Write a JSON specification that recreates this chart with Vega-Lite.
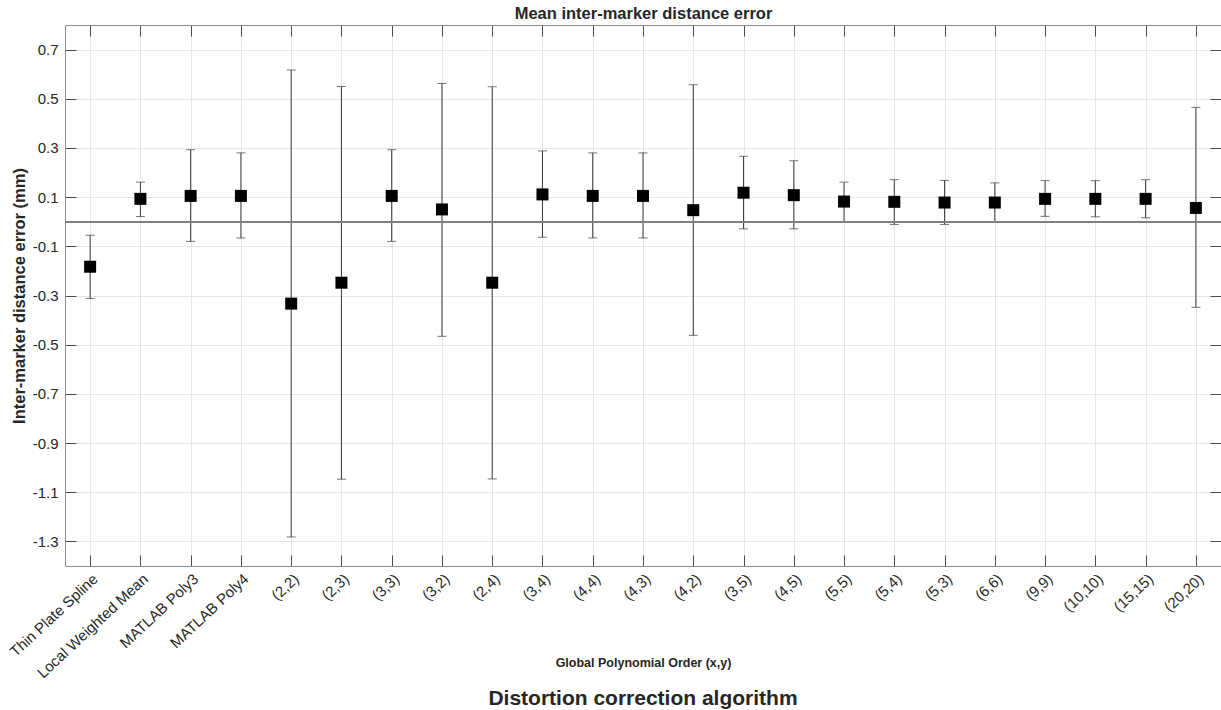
{
  "$schema": "https://vega.github.io/schema/vega-lite/v6.json",
  "autosize": {"type": "none"},
  "padding": {"left": 65, "top": 25, "right": 0, "bottom": 144},
  "width": 1156,
  "height": 541,
  "background": "white",
  "title": {
    "text": "Distortion correction algorithm",
    "orient": "bottom",
    "anchor": "middle",
    "font": "Liberation Sans",
    "fontSize": 21,
    "fontWeight": "bold",
    "color": "#262626",
    "offset": 7
  },
  "data": {
    "values": [
      {"method": "Thin Plate Spline", "mean": -0.183, "lower": -0.312, "upper": -0.055},
      {"method": "Local Weighted Mean", "mean": 0.093, "lower": 0.021, "upper": 0.161},
      {"method": "MATLAB Poly3", "mean": 0.105, "lower": -0.08, "upper": 0.293},
      {"method": "MATLAB Poly4", "mean": 0.105, "lower": -0.066, "upper": 0.28},
      {"method": "(2,2)", "mean": -0.333, "lower": -1.282, "upper": 0.617},
      {"method": "(2,3)", "mean": -0.248, "lower": -1.047, "upper": 0.55},
      {"method": "(3,3)", "mean": 0.105, "lower": -0.08, "upper": 0.293},
      {"method": "(3,2)", "mean": 0.05, "lower": -0.466, "upper": 0.562},
      {"method": "(2,4)", "mean": -0.248, "lower": -1.046, "upper": 0.549},
      {"method": "(3,4)", "mean": 0.111, "lower": -0.063, "upper": 0.288},
      {"method": "(4,4)", "mean": 0.105, "lower": -0.066, "upper": 0.28},
      {"method": "(4,3)", "mean": 0.105, "lower": -0.066, "upper": 0.28},
      {"method": "(4,2)", "mean": 0.047, "lower": -0.462, "upper": 0.557},
      {"method": "(3,5)", "mean": 0.118, "lower": -0.029, "upper": 0.266},
      {"method": "(4,5)", "mean": 0.108, "lower": -0.029, "upper": 0.248},
      {"method": "(5,5)", "mean": 0.082, "lower": 0.001, "upper": 0.161},
      {"method": "(5,4)", "mean": 0.081, "lower": -0.011, "upper": 0.171},
      {"method": "(5,3)", "mean": 0.078, "lower": -0.011, "upper": 0.168},
      {"method": "(6,6)", "mean": 0.078, "lower": 0.001, "upper": 0.158},
      {"method": "(9,9)", "mean": 0.093, "lower": 0.022, "upper": 0.167},
      {"method": "(10,10)", "mean": 0.093, "lower": 0.02, "upper": 0.167},
      {"method": "(15,15)", "mean": 0.093, "lower": 0.016, "upper": 0.171},
      {"method": "(20,20)", "mean": 0.056, "lower": -0.348, "upper": 0.465}
    ]
  },
  "config": {
    "view": {"stroke": null},
    "axis": {
      "labelFont": "Liberation Sans",
      "titleFont": "Liberation Sans",
      "labelColor": "#262626",
      "titleColor": "#262626",
      "domainColor": "#8c8c8c",
      "domainWidth": 1,
      "tickColor": "#4d4d4d",
      "tickWidth": 1,
      "gridColor": "#e6e6e6",
      "gridWidth": 1
    }
  },
  "resolve": {"axis": {"x": "independent", "y": "independent"}},
  "layer": [
    {
      "mark": {"type": "rule", "color": "#3a3a3a", "strokeWidth": 1},
      "encoding": {
        "x": {
          "field": "method", "type": "nominal", "sort": null,
          "scale": {"type": "point", "padding": 0.5},
          "axis": {
            "orient": "bottom",
            "title": "Global Polynomial Order (x,y)",
            "titleFontSize": 12.5,
            "titleFontWeight": "bold",
            "titleY": 96,
            "titleBaseline": "middle",
            "labelAngle": -43,
            "labelFontSize": 15,
            "labelPadding": 16,
            "tickSize": -11,
            "grid": true
          }
        },
        "y": {
          "field": "lower", "type": "quantitative",
          "scale": {"domain": [-1.4, 0.8], "nice": false, "zero": false},
          "axis": {
            "orient": "left",
            "title": "Inter-marker distance error (mm)",
            "titleFontSize": 16.5,
            "titleFontWeight": "bold",
            "titlePadding": 5,
            "values": [-1.3, -1.1, -0.9, -0.7, -0.5, -0.3, -0.1, 0.1, 0.3, 0.5, 0.7],
            "format": ".1f",
            "labelExpr": "replace(datum.label, '\u2212', '-')",
            "labelFontSize": 15,
            "labelPadding": 18,
            "tickSize": -11,
            "grid": true
          }
        },
        "y2": {"field": "upper"}
      }
    },
    {
      "mark": {"type": "tick", "color": "#3a3a3a", "size": 9, "thickness": 1},
      "encoding": {
        "x": {"field": "method", "type": "nominal", "sort": null, "axis": null},
        "y": {"field": "lower", "type": "quantitative", "axis": null}
      }
    },
    {
      "mark": {"type": "tick", "color": "#3a3a3a", "size": 9, "thickness": 1},
      "encoding": {
        "x": {"field": "method", "type": "nominal", "sort": null, "axis": null},
        "y": {"field": "upper", "type": "quantitative", "axis": null}
      }
    },
    {
      "mark": {"type": "rule", "color": "#808080", "strokeWidth": 1},
      "encoding": {
        "y": {"datum": 0, "type": "quantitative", "axis": null}
      }
    },
    {
      "mark": {"type": "square", "size": 144, "color": "black", "opacity": 1, "filled": true},
      "encoding": {
        "x": {"field": "method", "type": "nominal", "sort": null, "axis": null},
        "y": {"field": "mean", "type": "quantitative", "axis": null}
      }
    },
    {
      "mark": {"type": "point", "opacity": 0},
      "encoding": {
        "x": {
          "field": "method", "type": "nominal", "sort": null,
          "axis": {
            "orient": "top",
            "title": "Mean inter-marker distance error",
            "titleFontSize": 16.5,
            "titleFontWeight": "bold",
            "titlePadding": 3,
            "labels": false,
            "tickSize": -11,
            "grid": false
          }
        },
        "y": {
          "field": "mean", "type": "quantitative",
          "axis": {
            "orient": "right",
            "title": null,
            "labels": false,
            "values": [-1.3, -1.1, -0.9, -0.7, -0.5, -0.3, -0.1, 0.1, 0.3, 0.5, 0.7],
            "tickSize": -11,
            "grid": false
          }
        }
      }
    }
  ]
}
